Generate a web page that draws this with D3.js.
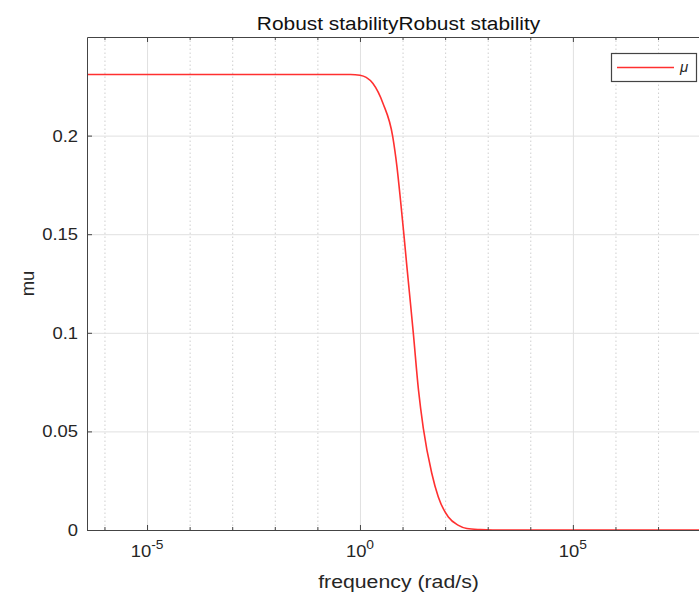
<!DOCTYPE html>
<html><head><meta charset="utf-8">
<script src="https://cdnjs.cloudflare.com/ajax/libs/d3/7.8.5/d3.min.js"></script>
<style>
body{margin:0;background:#fff;}
svg{display:block;font-family:"Liberation Sans",Arial,sans-serif;}
</style></head>
<body>
<script>
// Data
const freq = [4e-7, 1e-4, 1e-2, 0.1, 0.3, 0.6, 1, 1.4, 2.02, 3.48, 5.87, 7.41, 8.96, 10.8, 12.7, 15.1, 17.9, 23.7, 30.7, 48.4, 69.2, 119, 200, 325, 660, 1300, 1e4, 1e6, 1e9];
const mu   = [0.231, 0.231, 0.231, 0.231, 0.231, 0.231, 0.2306, 0.2295, 0.2264, 0.2163, 0.1996, 0.184, 0.1672, 0.1494, 0.1332, 0.1165, 0.0998, 0.0709, 0.0517, 0.0289, 0.0167, 0.0066, 0.0025, 0.0008, 0.0002, 0, 0, 0, 0];
const xMajorTicks = [1e-5, 1e0, 1e5];
const xMajorExp = ["-5", "0", "5"];
const xMinorTicks = [1e-6,1e-4,1e-3,1e-2,1e-1,1e1,1e2,1e3,1e4,1e6,1e7,1e8];
const yTicks = [0, 0.05, 0.1, 0.15, 0.2];
const yTickLabels = ["0", "0.05", "0.1", "0.15", "0.2"];
const seriesName = "μ";

const W = 699, H = 598;
const L = 87, T = 37, R = 710, B = 530;
const SX = 1.15; // horizontal stretch of the reference text
const svg = d3.select("body").append("svg").attr("width", W).attr("height", H);

const x = d3.scaleLog().domain([Math.pow(10,-6.41), Math.pow(10,8.22)]).range([L, R]);
const y = d3.scaleLinear().domain([0, 0.25]).range([B, T]);

const axisCol = "#444", textCol = "#262626", red = "#ff3030";

// grids
const g = svg.append("g");
g.append("g").attr("transform", `translate(0,${B})`)
  .call(d3.axisBottom(x).tickValues(xMinorTicks).tickSize(-(B-T)).tickFormat(""))
  .call(s => { s.select(".domain").remove(); s.selectAll("line").attr("stroke", "#cfcfcf").attr("stroke-dasharray", "1.5,2.5"); });
g.append("g").attr("transform", `translate(0,${B})`)
  .call(d3.axisBottom(x).tickValues(xMajorTicks).tickSize(-(B-T)).tickFormat(""))
  .call(s => { s.select(".domain").remove(); s.selectAll("line").attr("stroke", "#e0e0e0"); });
g.append("g").attr("transform", `translate(${L},0)`)
  .call(d3.axisLeft(y).tickValues(yTicks).tickSize(-(R-L)).tickFormat(""))
  .call(s => { s.select(".domain").remove(); s.selectAll("line").attr("stroke", "#e0e0e0"); });

// line
const line = d3.line().x((d,i) => x(freq[i])).y(d => y(d)).curve(d3.curveMonotoneX);
svg.append("path").datum(mu).attr("d", line).attr("fill", "none").attr("stroke", red).attr("stroke-width", 1.6);

// axes frame and ticks
function styleAxis(s){ s.select(".domain").attr("stroke", axisCol); s.selectAll("line").attr("stroke", axisCol); }
svg.append("g").attr("transform", `translate(0,${B})`)
  .call(d3.axisBottom(x).tickValues(xMajorTicks).tickSizeInner(-5).tickSizeOuter(0).tickFormat(""))
  .call(styleAxis);
svg.append("g").attr("transform", `translate(0,${B})`)
  .call(d3.axisBottom(x).tickValues(xMinorTicks).tickSizeInner(-3).tickSizeOuter(0).tickFormat(""))
  .call(s => { s.select(".domain").remove(); s.selectAll("line").attr("stroke", axisCol); });
svg.append("g").attr("transform", `translate(0,${T})`)
  .call(d3.axisTop(x).tickValues(xMajorTicks).tickSizeInner(-5).tickSizeOuter(0).tickFormat(""))
  .call(styleAxis);
svg.append("g").attr("transform", `translate(0,${T})`)
  .call(d3.axisTop(x).tickValues(xMinorTicks).tickSizeInner(-3).tickSizeOuter(0).tickFormat(""))
  .call(s => { s.select(".domain").remove(); s.selectAll("line").attr("stroke", axisCol); });
svg.append("g").attr("transform", `translate(${L},0)`)
  .call(d3.axisLeft(y).tickValues(yTicks).tickSizeInner(-5).tickSizeOuter(0).tickFormat(""))
  .call(styleAxis);
svg.append("g").attr("transform", `translate(${R},0)`)
  .call(d3.axisRight(y).tickValues(yTicks).tickSizeInner(-5).tickSizeOuter(0).tickFormat(""))
  .call(styleAxis);

// x tick labels
xMajorTicks.forEach((v, i) => {
  const t = svg.append("text").attr("transform", `translate(${x(v)},557) scale(${SX},1)`).attr("fill", textCol)
    .attr("font-size", 16).attr("text-anchor", "middle");
  t.append("tspan").text("10");
  t.append("tspan").attr("dy", -8).attr("font-size", 12).text(xMajorExp[i]);
});
// y tick labels
yTicks.forEach((v, i) => {
  svg.append("text").attr("transform", `translate(${L - 9},${y(v) + 6}) scale(${SX},1)`).attr("fill", textCol)
    .attr("font-size", 16).attr("text-anchor", "end").text(yTickLabels[i]);
});

// title & labels
svg.append("text").attr("transform", `translate(${(L + R) / 2},30) scale(1.1,1)`).attr("text-anchor", "middle")
  .attr("font-size", 19).attr("fill", "#111").text("Robust stabilityRobust stability");
svg.append("text").attr("transform", `translate(${(L + R) / 2},588) scale(${SX},1)`).attr("text-anchor", "middle")
  .attr("font-size", 18.5).attr("fill", textCol).text("frequency (rad/s)");
svg.append("text").attr("transform", `translate(34,${(T + B) / 2}) rotate(-90)`).attr("text-anchor", "middle")
  .attr("font-size", 18.5).attr("fill", textCol).text("mu");

// legend
const lg = svg.append("g");
lg.append("rect").attr("x", 611.5).attr("y", 53.5).attr("width", 85).attr("height", 28)
  .attr("fill", "#fff").attr("stroke", axisCol).attr("stroke-width", 1.2);
lg.append("line").attr("x1", 617).attr("x2", 674).attr("y1", 67.5).attr("y2", 67.5)
  .attr("stroke", red).attr("stroke-width", 1.6);
lg.append("text").attr("x", 680).attr("y", 72).attr("font-size", 15).attr("font-style", "italic")
  .attr("fill", textCol).text(seriesName);
</script>
</body></html>
